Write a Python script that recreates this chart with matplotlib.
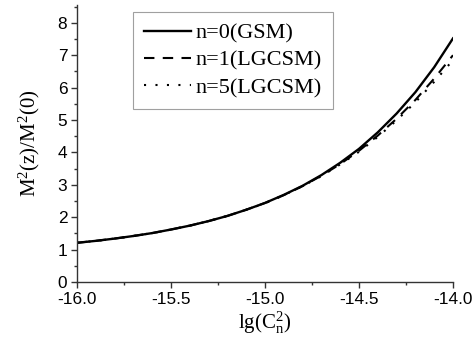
import matplotlib
matplotlib.use("Agg")
import matplotlib.pyplot as plt
from matplotlib.ticker import MultipleLocator

plt.rcParams["mathtext.fontset"] = "custom"
plt.rcParams["mathtext.rm"] = "Liberation Serif"
plt.rcParams["mathtext.it"] = "Liberation Serif:italic"

# log10 of the structure constant C_n^2
lg_cn2 = [-16.0, -15.9, -15.8, -15.7, -15.6, -15.5, -15.4, -15.3, -15.2, -15.1,
          -15.0, -14.9, -14.8, -14.7, -14.6, -14.5, -14.4, -14.3, -14.2, -14.1, -14.0]

# normalised M^2 factor for each beam order
m2_gsm_n0 = [1.21, 1.27, 1.34, 1.42, 1.51, 1.62, 1.74, 1.88, 2.04, 2.23,
             2.44, 2.69, 2.97, 3.30, 3.68, 4.11, 4.62, 5.20, 5.86, 6.63, 7.52]
m2_lgcsm_n1 = [1.21, 1.27, 1.34, 1.42, 1.51, 1.62, 1.74, 1.88, 2.04, 2.23,
               2.44, 2.68, 2.96, 3.28, 3.64, 4.05, 4.52, 5.04, 5.62, 6.28, 7.00]
m2_lgcsm_n5 = [1.21, 1.27, 1.34, 1.42, 1.51, 1.62, 1.74, 1.88, 2.04, 2.23,
               2.43, 2.68, 2.96, 3.27, 3.63, 4.02, 4.48, 4.99, 5.55, 6.18, 6.85]

labels = ["n=0(GSM)", "n=1(LGCSM)", "n=5(LGCSM)"]

W, H = 474, 353
fig = plt.figure(figsize=(W / 100, H / 100), dpi=100)
ax = fig.add_axes([77 / W, 1 - 282 / H, (453 - 77) / W, (282 - 5) / H])

ax.plot(lg_cn2, m2_gsm_n0, color="black", lw=1.7, ls="-", label=labels[0])
ax.plot(lg_cn2, m2_lgcsm_n1, color="black", lw=1.5, ls=(0, (5, 4)), label=labels[1])
ax.plot(lg_cn2, m2_lgcsm_n5, color="black", lw=1.5, ls=(0, (1, 4.5)), label=labels[2])

ax.set_xlim(-16.0, -14.0)
ax.set_ylim(0, 8.55)
ax.xaxis.set_major_locator(MultipleLocator(0.5))
ax.xaxis.set_minor_locator(MultipleLocator(0.25))
ax.yaxis.set_major_locator(MultipleLocator(1))
ax.yaxis.set_minor_locator(MultipleLocator(0.5))
ax.xaxis.set_major_formatter(plt.FormatStrFormatter("%.1f"))

for side in ("top", "right"):
    ax.spines[side].set_visible(False)
for side in ("left", "bottom"):
    ax.spines[side].set_color("#333333")
    ax.spines[side].set_linewidth(1.0)

ax.tick_params(which="major", direction="out", length=4.5, width=1, color="#333333",
               labelsize=12.4, pad=2.5)
ax.tick_params(which="minor", direction="out", length=2.5, width=1, color="#333333")
for t in ax.get_xticklabels() + ax.get_yticklabels():
    t.set_fontfamily("Liberation Sans")

ax.set_xlabel(r"$\mathrm{lg(C_n^2)}$", fontsize=15, labelpad=2.5)
ax.set_ylabel(r"$\mathrm{M^2(z)/M^2(0)}$", fontsize=15, labelpad=11)

leg = ax.legend(loc="upper left", bbox_to_anchor=(133 / W, 1 - 12 / H),
                bbox_transform=fig.transFigure, frameon=True, fancybox=False,
                edgecolor="#888888", handlelength=2.1, handletextpad=0.2,
                borderpad=0.5, labelspacing=0.3, borderaxespad=0,
                prop={"family": "Liberation Serif", "size": 16})
leg.get_frame().set_linewidth(0.8)

fig.savefig("out.png", dpi=100)
